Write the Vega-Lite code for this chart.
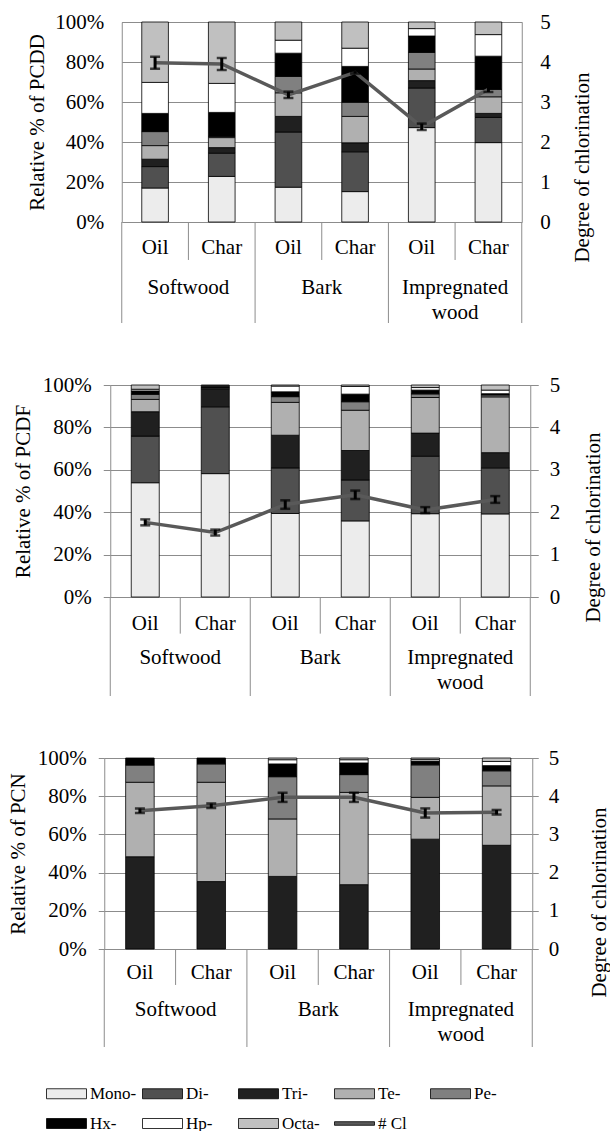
{
 "$schema": "https://vega.github.io/schema/vega-lite/v6.json",
 "padding": {"left": 7, "top": 11, "right": 0, "bottom": 0},
 "background": "white",
 "spacing": 50,
 "center": true,
 "config": {
  "view": {"stroke": null},
  "font": "Liberation Serif",
  "axis": {"labelFont": "Liberation Serif", "labelFontSize": 21, "labelColor": "black", "titleFont": "Liberation Serif", "titleFontSize": 21, "titleFontWeight": "normal", "titleColor": "black", "domainColor": "#8c8c8c", "gridColor": "#8c8c8c", "tickColor": "#8c8c8c", "domainWidth": 1, "gridWidth": 1},
  "text": {"font": "Liberation Serif", "fontSize": 21, "color": "black"}
 },
 "datasets": {
  "pcdd": [
   {"s":"SW-Oil","c":"Mono-","v":17},{"s":"SW-Oil","c":"Di-","v":10.7},{"s":"SW-Oil","c":"Tri-","v":3.7},{"s":"SW-Oil","c":"Te-","v":6.8},{"s":"SW-Oil","c":"Pe-","v":7},{"s":"SW-Oil","c":"Hx-","v":9.1},{"s":"SW-Oil","c":"Hp-","v":15.5},{"s":"SW-Oil","c":"Octa-","v":30.2},
   {"s":"SW-Char","c":"Mono-","v":22.8},{"s":"SW-Char","c":"Di-","v":11.6},{"s":"SW-Char","c":"Tri-","v":2.8},{"s":"SW-Char","c":"Te-","v":5},{"s":"SW-Char","c":"Pe-","v":0.6},{"s":"SW-Char","c":"Hx-","v":12},{"s":"SW-Char","c":"Hp-","v":14.5},{"s":"SW-Char","c":"Octa-","v":30.7},
   {"s":"BK-Oil","c":"Mono-","v":17.4},{"s":"BK-Oil","c":"Di-","v":27.6},{"s":"BK-Oil","c":"Tri-","v":7.8},{"s":"BK-Oil","c":"Te-","v":11.8},{"s":"BK-Oil","c":"Pe-","v":8.2},{"s":"BK-Oil","c":"Hx-","v":11.6},{"s":"BK-Oil","c":"Hp-","v":6.5},{"s":"BK-Oil","c":"Octa-","v":9.1},
   {"s":"BK-Char","c":"Mono-","v":15.2},{"s":"BK-Char","c":"Di-","v":19.9},{"s":"BK-Char","c":"Tri-","v":4.5},{"s":"BK-Char","c":"Te-","v":13.2},{"s":"BK-Char","c":"Pe-","v":7.1},{"s":"BK-Char","c":"Hx-","v":17.9},{"s":"BK-Char","c":"Hp-","v":9.1},{"s":"BK-Char","c":"Octa-","v":13.1},
   {"s":"IW-Oil","c":"Mono-","v":47.2},{"s":"IW-Oil","c":"Di-","v":19.8},{"s":"IW-Oil","c":"Tri-","v":3.7},{"s":"IW-Oil","c":"Te-","v":5.8},{"s":"IW-Oil","c":"Pe-","v":8.3},{"s":"IW-Oil","c":"Hx-","v":8.2},{"s":"IW-Oil","c":"Hp-","v":3.7},{"s":"IW-Oil","c":"Octa-","v":3.3},
   {"s":"IW-Char","c":"Mono-","v":39.7},{"s":"IW-Char","c":"Di-","v":12.6},{"s":"IW-Char","c":"Tri-","v":2},{"s":"IW-Char","c":"Te-","v":8.3},{"s":"IW-Char","c":"Pe-","v":3.7},{"s":"IW-Char","c":"Hx-","v":16.6},{"s":"IW-Char","c":"Hp-","v":10.8},{"s":"IW-Char","c":"Octa-","v":6.3}
  ],
  "pcdf": [
   {"s":"SW-Oil","c":"Mono-","v":53.9},{"s":"SW-Oil","c":"Di-","v":22},{"s":"SW-Oil","c":"Tri-","v":11.5},{"s":"SW-Oil","c":"Te-","v":5.8},{"s":"SW-Oil","c":"Pe-","v":2.4},{"s":"SW-Oil","c":"Hx-","v":1.6},{"s":"SW-Oil","c":"Hp-","v":0.8},{"s":"SW-Oil","c":"Octa-","v":2},
   {"s":"SW-Char","c":"Mono-","v":58.2},{"s":"SW-Char","c":"Di-","v":31.5},{"s":"SW-Char","c":"Tri-","v":8.5},{"s":"SW-Char","c":"Te-","v":0.4},{"s":"SW-Char","c":"Pe-","v":0.3},{"s":"SW-Char","c":"Hx-","v":0.4},{"s":"SW-Char","c":"Hp-","v":0.4},{"s":"SW-Char","c":"Octa-","v":0.3},
   {"s":"BK-Oil","c":"Mono-","v":39.4},{"s":"BK-Oil","c":"Di-","v":21.5},{"s":"BK-Oil","c":"Tri-","v":15.4},{"s":"BK-Oil","c":"Te-","v":15.5},{"s":"BK-Oil","c":"Pe-","v":2.7},{"s":"BK-Oil","c":"Hx-","v":2.3},{"s":"BK-Oil","c":"Hp-","v":2.7},{"s":"BK-Oil","c":"Octa-","v":0.5},
   {"s":"BK-Char","c":"Mono-","v":35.9},{"s":"BK-Char","c":"Di-","v":19.3},{"s":"BK-Char","c":"Tri-","v":13.9},{"s":"BK-Char","c":"Te-","v":19},{"s":"BK-Char","c":"Pe-","v":4},{"s":"BK-Char","c":"Hx-","v":3.6},{"s":"BK-Char","c":"Hp-","v":3.6},{"s":"BK-Char","c":"Octa-","v":0.7},
   {"s":"IW-Oil","c":"Mono-","v":39.3},{"s":"IW-Oil","c":"Di-","v":27.1},{"s":"IW-Oil","c":"Tri-","v":10.9},{"s":"IW-Oil","c":"Te-","v":16.8},{"s":"IW-Oil","c":"Pe-","v":1.7},{"s":"IW-Oil","c":"Hx-","v":1.8},{"s":"IW-Oil","c":"Hp-","v":1.2},{"s":"IW-Oil","c":"Octa-","v":1.2},
   {"s":"IW-Char","c":"Mono-","v":39.2},{"s":"IW-Char","c":"Di-","v":21.7},{"s":"IW-Char","c":"Tri-","v":7.2},{"s":"IW-Char","c":"Te-","v":26.3},{"s":"IW-Char","c":"Pe-","v":0.9},{"s":"IW-Char","c":"Hx-","v":0.6},{"s":"IW-Char","c":"Hp-","v":1.7},{"s":"IW-Char","c":"Octa-","v":2.4}
  ],
  "pcn": [
   {"s":"SW-Oil","c":"Tri-","v":48.3},{"s":"SW-Oil","c":"Te-","v":39},{"s":"SW-Oil","c":"Pe-","v":9},{"s":"SW-Oil","c":"Hx-","v":3.7},
   {"s":"SW-Char","c":"Tri-","v":35.3},{"s":"SW-Char","c":"Te-","v":52},{"s":"SW-Char","c":"Pe-","v":9.6},{"s":"SW-Char","c":"Hx-","v":3.1},
   {"s":"BK-Oil","c":"Tri-","v":38},{"s":"BK-Oil","c":"Te-","v":30.1},{"s":"BK-Oil","c":"Pe-","v":22.1},{"s":"BK-Oil","c":"Hx-","v":6.7},{"s":"BK-Oil","c":"Hp-","v":2.2},{"s":"BK-Oil","c":"Octa-","v":0.9},
   {"s":"BK-Char","c":"Tri-","v":33.7},{"s":"BK-Char","c":"Te-","v":48.3},{"s":"BK-Char","c":"Pe-","v":9.3},{"s":"BK-Char","c":"Hx-","v":6.1},{"s":"BK-Char","c":"Hp-","v":1.7},{"s":"BK-Char","c":"Octa-","v":0.9},
   {"s":"IW-Oil","c":"Tri-","v":57.5},{"s":"IW-Oil","c":"Te-","v":21.9},{"s":"IW-Oil","c":"Pe-","v":17},{"s":"IW-Oil","c":"Hx-","v":2},{"s":"IW-Oil","c":"Hp-","v":0.9},{"s":"IW-Oil","c":"Octa-","v":0.7},
   {"s":"IW-Char","c":"Tri-","v":54.3},{"s":"IW-Char","c":"Te-","v":31.1},{"s":"IW-Char","c":"Pe-","v":7.9},{"s":"IW-Char","c":"Hx-","v":2.7},{"s":"IW-Char","c":"Hp-","v":2.2},{"s":"IW-Char","c":"Octa-","v":1.8}
  ],
  "cl_pcdd": [
   {"s":"SW-Oil","type":"Oil","group":"Softwood","cl":3.98,"lo":3.83,"hi":4.13},
   {"s":"SW-Char","type":"Char","group":"Softwood","cl":3.95,"lo":3.8,"hi":4.1},
   {"s":"BK-Oil","type":"Oil","group":"Bark","cl":3.18,"lo":3.1,"hi":3.26},
   {"s":"BK-Char","type":"Char","group":"Bark","cl":3.74,"lo":3.71,"hi":3.77},
   {"s":"IW-Oil","type":"Oil","group":"Impregnated\nwood","cl":2.38,"lo":2.3,"hi":2.46},
   {"s":"IW-Char","type":"Char","group":"Impregnated\nwood","cl":3.32,"lo":3.25,"hi":3.39}
  ],
  "cl_pcdf": [
   {"s":"SW-Oil","type":"Oil","group":"Softwood","cl":1.76,"lo":1.69,"hi":1.83},
   {"s":"SW-Char","type":"Char","group":"Softwood","cl":1.52,"lo":1.45,"hi":1.59},
   {"s":"BK-Oil","type":"Oil","group":"Bark","cl":2.18,"lo":2.08,"hi":2.28},
   {"s":"BK-Char","type":"Char","group":"Bark","cl":2.41,"lo":2.31,"hi":2.51},
   {"s":"IW-Oil","type":"Oil","group":"Impregnated\nwood","cl":2.05,"lo":1.98,"hi":2.12},
   {"s":"IW-Char","type":"Char","group":"Impregnated\nwood","cl":2.3,"lo":2.22,"hi":2.38}
  ],
  "cl_pcn": [
   {"s":"SW-Oil","type":"Oil","group":"Softwood","cl":3.62,"lo":3.56,"hi":3.68},
   {"s":"SW-Char","type":"Char","group":"Softwood","cl":3.75,"lo":3.69,"hi":3.81},
   {"s":"BK-Oil","type":"Oil","group":"Bark","cl":3.97,"lo":3.85,"hi":4.09},
   {"s":"BK-Char","type":"Char","group":"Bark","cl":3.97,"lo":3.85,"hi":4.09},
   {"s":"IW-Oil","type":"Oil","group":"Impregnated\nwood","cl":3.56,"lo":3.44,"hi":3.68},
   {"s":"IW-Char","type":"Char","group":"Impregnated\nwood","cl":3.58,"lo":3.52,"hi":3.64}
  ]
 },
 "vconcat": [
  {
   "width": 400, "height": 301,
   "resolve": {"scale": {"y": "independent"}},
   "layer": [
    {
     "data": {"name": "pcdd"},
     "transform": [{"calculate": "indexof(['Mono-','Di-','Tri-','Te-','Pe-','Hx-','Hp-','Octa-'], datum.c)", "as": "k"}],
     "mark": {"type": "bar", "stroke": "black", "strokeWidth": 0.8},
     "encoding": {
      "x": {"field": "s", "type": "nominal", "sort": ["SW-Oil","SW-Char","BK-Oil","BK-Char","IW-Oil","IW-Char"], "scale": {"domain": ["SW-Oil","SW-Char","BK-Oil","BK-Char","IW-Oil","IW-Char"], "paddingInner": 0.6, "paddingOuter": 0.3}, "axis": {"orient": "top", "labels": false, "ticks": false, "title": null, "grid": false}},
      "y": {"field": "v", "type": "quantitative", "stack": "normalize", "scale": {"domain": [0, 1], "range": [200, 0]}, "axis": {"title": "Relative % of PCDD", "format": ".0%", "values": [0, 0.2, 0.4, 0.6, 0.8, 1], "grid": true, "ticks": false, "tickSize": 0, "labelPadding": 18, "titlePadding": 7}},
      "order": {"field": "k", "type": "quantitative", "sort": "ascending"},
      "fill": {"field": "c", "type": "nominal", "sort": ["Mono-","Di-","Tri-","Te-","Pe-","Hx-","Hp-","Octa-","# Cl"], "scale": {"domain": ["Mono-","Di-","Tri-","Te-","Pe-","Hx-","Hp-","Octa-","# Cl"], "range": ["#ececec","#505050","#202020","#b0b0b0","#808080","#000000","#ffffff","#c0c0c0","#595959"]},
       "legend": {"orient": "none", "legendX": -58, "legendY": 1051, "direction": "horizontal", "columns": 5, "columnPadding": 3, "rowPadding": 1, "gridAlign": "all", "title": null, "labelFont": "Liberation Serif", "labelFontSize": 17, "labelColor": "black", "labelOffset": 3, "symbolType": "M-1,-0.25H1V0.25H-1Z", "symbolSize": 1600, "symbolStrokeColor": "black", "symbolStrokeWidth": 0.8, "symbolOpacity": 1,
        "encode": {"symbols": {"update": {"shape": {"signal": "datum.value === '# Cl' ? 'M-1,-0.09H1V0.09H-1Z' : 'M-1,-0.25H1V0.25H-1Z'"}}}}}}
     }
    },
    {
     "data": {"name": "cl_pcdd"},
     "layer": [
      {"mark": {"type": "line", "color": "#595959", "strokeWidth": 3.5},
       "encoding": {"x": {"field": "s", "type": "nominal", "sort": ["SW-Oil","SW-Char","BK-Oil","BK-Char","IW-Oil","IW-Char"]},
        "y": {"field": "cl", "type": "quantitative", "scale": {"domain": [0, 5], "range": [200, 0]}, "axis": {"orient": "right", "title": "Degree of chlorination", "values": [0,1,2,3,4,5], "format": "d", "grid": false, "ticks": false, "tickSize": 0, "labelPadding": 18, "titlePadding": 21, "titleAngle": 270, "titleBaseline": "top", "titleY": 145}}}},
      {"mark": {"type": "rule", "color": "black", "strokeWidth": 3},
       "encoding": {"x": {"field": "s", "type": "nominal", "sort": ["SW-Oil","SW-Char","BK-Oil","BK-Char","IW-Oil","IW-Char"]}, "y": {"field": "lo", "type": "quantitative"}, "y2": {"field": "hi"}}},
      {"mark": {"type": "tick", "color": "black", "thickness": 2.5, "size": 10, "orient": "horizontal"},
       "encoding": {"x": {"field": "s", "type": "nominal", "sort": ["SW-Oil","SW-Char","BK-Oil","BK-Char","IW-Oil","IW-Char"]}, "y": {"field": "lo", "type": "quantitative"}}},
      {"mark": {"type": "tick", "color": "black", "thickness": 2.5, "size": 10, "orient": "horizontal"},
       "encoding": {"x": {"field": "s", "type": "nominal", "sort": ["SW-Oil","SW-Char","BK-Oil","BK-Char","IW-Oil","IW-Char"]}, "y": {"field": "hi", "type": "quantitative"}}}
     ]
    },
    {
     "data": {"name": "cl_pcdd"},
     "layer": [
      {"mark": {"type": "text", "baseline": "middle", "align": "center"},
       "encoding": {"x": {"field": "s", "type": "nominal", "sort": ["SW-Oil","SW-Char","BK-Oil","BK-Char","IW-Oil","IW-Char"]}, "y": {"datum": 0.257, "type": "quantitative", "scale": {"domain": [0, 1], "range": [200, 301]}, "axis": null}, "text": {"field": "type"}}},
      {"transform": [{"filter": "datum.type === 'Char'"}],
       "mark": {"type": "text", "baseline": "top", "align": "center", "lineBreak": "\n", "lineHeight": 25},
       "encoding": {"x": {"field": "s", "type": "nominal", "sort": ["SW-Oil","SW-Char","BK-Oil","BK-Char","IW-Oil","IW-Char"], "bandPosition": -0.75}, "y": {"datum": 0.54, "type": "quantitative", "axis": null}, "text": {"field": "group"}}},
      {"transform": [{"filter": "datum.type === 'Char'"}],
       "mark": {"type": "rule", "color": "#8c8c8c", "strokeWidth": 1},
       "encoding": {"x": {"field": "s", "type": "nominal", "sort": ["SW-Oil","SW-Char","BK-Oil","BK-Char","IW-Oil","IW-Char"], "bandPosition": -0.75}, "y": {"datum": 0, "type": "quantitative", "axis": null}, "y2": {"datum": 0.376}}},
      {"transform": [{"filter": "datum.type === 'Oil'"}],
       "mark": {"type": "rule", "color": "#8c8c8c", "strokeWidth": 1},
       "encoding": {"x": {"field": "s", "type": "nominal", "sort": ["SW-Oil","SW-Char","BK-Oil","BK-Char","IW-Oil","IW-Char"], "bandPosition": -0.75}, "y": {"datum": 0, "type": "quantitative", "axis": null}, "y2": {"datum": 1}}},
      {"transform": [{"filter": "datum.s === 'IW-Char'"}],
       "mark": {"type": "rule", "color": "#8c8c8c", "strokeWidth": 1},
       "encoding": {"x": {"field": "s", "type": "nominal", "sort": ["SW-Oil","SW-Char","BK-Oil","BK-Char","IW-Oil","IW-Char"], "bandPosition": 1.75}, "y": {"datum": 0, "type": "quantitative", "axis": null}, "y2": {"datum": 1}}}
     ]
    }
   ]
  },
  {
   "width": 420, "height": 311,
   "resolve": {"scale": {"y": "independent"}},
   "layer": [
    {
     "data": {"name": "pcdf"},
     "transform": [{"calculate": "indexof(['Mono-','Di-','Tri-','Te-','Pe-','Hx-','Hp-','Octa-'], datum.c)", "as": "k"}],
     "mark": {"type": "bar", "stroke": "black", "strokeWidth": 0.8},
     "encoding": {
      "x": {"field": "s", "type": "nominal", "sort": ["SW-Oil","SW-Char","BK-Oil","BK-Char","IW-Oil","IW-Char"], "scale": {"domain": ["SW-Oil","SW-Char","BK-Oil","BK-Char","IW-Oil","IW-Char"], "paddingInner": 0.6, "paddingOuter": 0.3}, "axis": {"orient": "top", "labels": false, "ticks": false, "title": null, "grid": false}},
      "y": {"field": "v", "type": "quantitative", "stack": "normalize", "scale": {"domain": [0, 1], "range": [212, 0]}, "axis": {"title": "Relative % of PCDF", "format": ".0%", "values": [0, 0.2, 0.4, 0.6, 0.8, 1], "grid": true, "ticks": true, "tickSize": 7, "labelPadding": 12, "titlePadding": 9}},
      "order": {"field": "k", "type": "quantitative", "sort": "ascending"},
      "fill": {"field": "c", "type": "nominal", "sort": ["Mono-","Di-","Tri-","Te-","Pe-","Hx-","Hp-","Octa-","# Cl"], "scale": {"domain": ["Mono-","Di-","Tri-","Te-","Pe-","Hx-","Hp-","Octa-","# Cl"], "range": ["#ececec","#505050","#202020","#b0b0b0","#808080","#000000","#ffffff","#c0c0c0","#595959"]}}
     }
    },
    {
     "data": {"name": "cl_pcdf"},
     "layer": [
      {"mark": {"type": "line", "color": "#595959", "strokeWidth": 3.5},
       "encoding": {"x": {"field": "s", "type": "nominal", "sort": ["SW-Oil","SW-Char","BK-Oil","BK-Char","IW-Oil","IW-Char"]},
        "y": {"field": "cl", "type": "quantitative", "scale": {"domain": [0, 5], "range": [212, 0]}, "axis": {"orient": "right", "title": "Degree of chlorination", "values": [0,1,2,3,4,5], "format": "d", "grid": false, "ticks": true, "tickSize": 8, "labelPadding": 11, "titlePadding": 23, "titleAngle": 270, "titleBaseline": "top", "titleY": 142}}}},
      {"mark": {"type": "rule", "color": "black", "strokeWidth": 3},
       "encoding": {"x": {"field": "s", "type": "nominal", "sort": ["SW-Oil","SW-Char","BK-Oil","BK-Char","IW-Oil","IW-Char"]}, "y": {"field": "lo", "type": "quantitative"}, "y2": {"field": "hi"}}},
      {"mark": {"type": "tick", "color": "black", "thickness": 2.5, "size": 10, "orient": "horizontal"},
       "encoding": {"x": {"field": "s", "type": "nominal", "sort": ["SW-Oil","SW-Char","BK-Oil","BK-Char","IW-Oil","IW-Char"]}, "y": {"field": "lo", "type": "quantitative"}}},
      {"mark": {"type": "tick", "color": "black", "thickness": 2.5, "size": 10, "orient": "horizontal"},
       "encoding": {"x": {"field": "s", "type": "nominal", "sort": ["SW-Oil","SW-Char","BK-Oil","BK-Char","IW-Oil","IW-Char"]}, "y": {"field": "hi", "type": "quantitative"}}}
     ]
    },
    {
     "data": {"name": "cl_pcdf"},
     "layer": [
      {"mark": {"type": "text", "baseline": "middle", "align": "center"},
       "encoding": {"x": {"field": "s", "type": "nominal", "sort": ["SW-Oil","SW-Char","BK-Oil","BK-Char","IW-Oil","IW-Char"]}, "y": {"datum": 0.273, "type": "quantitative", "scale": {"domain": [0, 1], "range": [212, 311]}, "axis": null}, "text": {"field": "type"}}},
      {"transform": [{"filter": "datum.type === 'Char'"}],
       "mark": {"type": "text", "baseline": "top", "align": "center", "lineBreak": "\n", "lineHeight": 25},
       "encoding": {"x": {"field": "s", "type": "nominal", "sort": ["SW-Oil","SW-Char","BK-Oil","BK-Char","IW-Oil","IW-Char"], "bandPosition": -0.75}, "y": {"datum": 0.51, "type": "quantitative", "axis": null}, "text": {"field": "group"}}},
      {"transform": [{"filter": "datum.type === 'Char'"}],
       "mark": {"type": "rule", "color": "#8c8c8c", "strokeWidth": 1},
       "encoding": {"x": {"field": "s", "type": "nominal", "sort": ["SW-Oil","SW-Char","BK-Oil","BK-Char","IW-Oil","IW-Char"], "bandPosition": -0.75}, "y": {"datum": 0, "type": "quantitative", "axis": null}, "y2": {"datum": 0.37}}},
      {"transform": [{"filter": "datum.type === 'Oil'"}],
       "mark": {"type": "rule", "color": "#8c8c8c", "strokeWidth": 1},
       "encoding": {"x": {"field": "s", "type": "nominal", "sort": ["SW-Oil","SW-Char","BK-Oil","BK-Char","IW-Oil","IW-Char"], "bandPosition": -0.75}, "y": {"datum": 0, "type": "quantitative", "axis": null}, "y2": {"datum": 1}}},
      {"transform": [{"filter": "datum.s === 'IW-Char'"}],
       "mark": {"type": "rule", "color": "#8c8c8c", "strokeWidth": 1},
       "encoding": {"x": {"field": "s", "type": "nominal", "sort": ["SW-Oil","SW-Char","BK-Oil","BK-Char","IW-Oil","IW-Char"], "bandPosition": 1.75}, "y": {"datum": 0, "type": "quantitative", "axis": null}, "y2": {"datum": 1}}}
     ]
    }
   ]
  },
  {
   "width": 428, "height": 289,
   "resolve": {"scale": {"y": "independent"}},
   "layer": [
    {
     "data": {"name": "pcn"},
     "transform": [{"calculate": "indexof(['Mono-','Di-','Tri-','Te-','Pe-','Hx-','Hp-','Octa-'], datum.c)", "as": "k"}],
     "mark": {"type": "bar", "stroke": "black", "strokeWidth": 0.8},
     "encoding": {
      "x": {"field": "s", "type": "nominal", "sort": ["SW-Oil","SW-Char","BK-Oil","BK-Char","IW-Oil","IW-Char"], "scale": {"domain": ["SW-Oil","SW-Char","BK-Oil","BK-Char","IW-Oil","IW-Char"], "paddingInner": 0.6, "paddingOuter": 0.3}, "axis": {"orient": "top", "labels": false, "ticks": false, "title": null, "grid": false}},
      "y": {"field": "v", "type": "quantitative", "stack": "normalize", "scale": {"domain": [0, 1], "range": [191, 0]}, "axis": {"title": "Relative % of PCN", "format": ".0%", "values": [0, 0.2, 0.4, 0.6, 0.8, 1], "grid": true, "ticks": true, "tickSize": 6, "labelPadding": 12, "titlePadding": 9}},
      "order": {"field": "k", "type": "quantitative", "sort": "ascending"},
      "fill": {"field": "c", "type": "nominal", "sort": ["Mono-","Di-","Tri-","Te-","Pe-","Hx-","Hp-","Octa-","# Cl"], "scale": {"domain": ["Mono-","Di-","Tri-","Te-","Pe-","Hx-","Hp-","Octa-","# Cl"], "range": ["#ececec","#505050","#202020","#b0b0b0","#808080","#000000","#ffffff","#c0c0c0","#595959"]}}
     }
    },
    {
     "data": {"name": "cl_pcn"},
     "layer": [
      {"mark": {"type": "line", "color": "#595959", "strokeWidth": 3.5},
       "encoding": {"x": {"field": "s", "type": "nominal", "sort": ["SW-Oil","SW-Char","BK-Oil","BK-Char","IW-Oil","IW-Char"]},
        "y": {"field": "cl", "type": "quantitative", "scale": {"domain": [0, 5], "range": [191, 0]}, "axis": {"orient": "right", "title": "Degree of chlorination", "values": [0,1,2,3,4,5], "format": "d", "grid": false, "ticks": true, "tickSize": 6, "labelPadding": 10, "titlePadding": 30, "titleAngle": 270, "titleBaseline": "top", "titleY": 144}}}},
      {"mark": {"type": "rule", "color": "black", "strokeWidth": 3},
       "encoding": {"x": {"field": "s", "type": "nominal", "sort": ["SW-Oil","SW-Char","BK-Oil","BK-Char","IW-Oil","IW-Char"]}, "y": {"field": "lo", "type": "quantitative"}, "y2": {"field": "hi"}}},
      {"mark": {"type": "tick", "color": "black", "thickness": 2.5, "size": 10, "orient": "horizontal"},
       "encoding": {"x": {"field": "s", "type": "nominal", "sort": ["SW-Oil","SW-Char","BK-Oil","BK-Char","IW-Oil","IW-Char"]}, "y": {"field": "lo", "type": "quantitative"}}},
      {"mark": {"type": "tick", "color": "black", "thickness": 2.5, "size": 10, "orient": "horizontal"},
       "encoding": {"x": {"field": "s", "type": "nominal", "sort": ["SW-Oil","SW-Char","BK-Oil","BK-Char","IW-Oil","IW-Char"]}, "y": {"field": "hi", "type": "quantitative"}}}
     ]
    },
    {
     "data": {"name": "cl_pcn"},
     "layer": [
      {"mark": {"type": "text", "baseline": "middle", "align": "center"},
       "encoding": {"x": {"field": "s", "type": "nominal", "sort": ["SW-Oil","SW-Char","BK-Oil","BK-Char","IW-Oil","IW-Char"]}, "y": {"datum": 0.245, "type": "quantitative", "scale": {"domain": [0, 1], "range": [191, 289]}, "axis": null}, "text": {"field": "type"}}},
      {"transform": [{"filter": "datum.type === 'Char'"}],
       "mark": {"type": "text", "baseline": "top", "align": "center", "lineBreak": "\n", "lineHeight": 25},
       "encoding": {"x": {"field": "s", "type": "nominal", "sort": ["SW-Oil","SW-Char","BK-Oil","BK-Char","IW-Oil","IW-Char"], "bandPosition": -0.75}, "y": {"datum": 0.515, "type": "quantitative", "axis": null}, "text": {"field": "group"}}},
      {"transform": [{"filter": "datum.type === 'Char'"}],
       "mark": {"type": "rule", "color": "#8c8c8c", "strokeWidth": 1},
       "encoding": {"x": {"field": "s", "type": "nominal", "sort": ["SW-Oil","SW-Char","BK-Oil","BK-Char","IW-Oil","IW-Char"], "bandPosition": -0.75}, "y": {"datum": 0, "type": "quantitative", "axis": null}, "y2": {"datum": 0.367}}},
      {"transform": [{"filter": "datum.type === 'Oil'"}],
       "mark": {"type": "rule", "color": "#8c8c8c", "strokeWidth": 1},
       "encoding": {"x": {"field": "s", "type": "nominal", "sort": ["SW-Oil","SW-Char","BK-Oil","BK-Char","IW-Oil","IW-Char"], "bandPosition": -0.75}, "y": {"datum": 0, "type": "quantitative", "axis": null}, "y2": {"datum": 1}}},
      {"transform": [{"filter": "datum.s === 'IW-Char'"}],
       "mark": {"type": "rule", "color": "#8c8c8c", "strokeWidth": 1},
       "encoding": {"x": {"field": "s", "type": "nominal", "sort": ["SW-Oil","SW-Char","BK-Oil","BK-Char","IW-Oil","IW-Char"], "bandPosition": 1.75}, "y": {"datum": 0, "type": "quantitative", "axis": null}, "y2": {"datum": 1}}}
     ]
    }
   ]
  }
 ]
}
